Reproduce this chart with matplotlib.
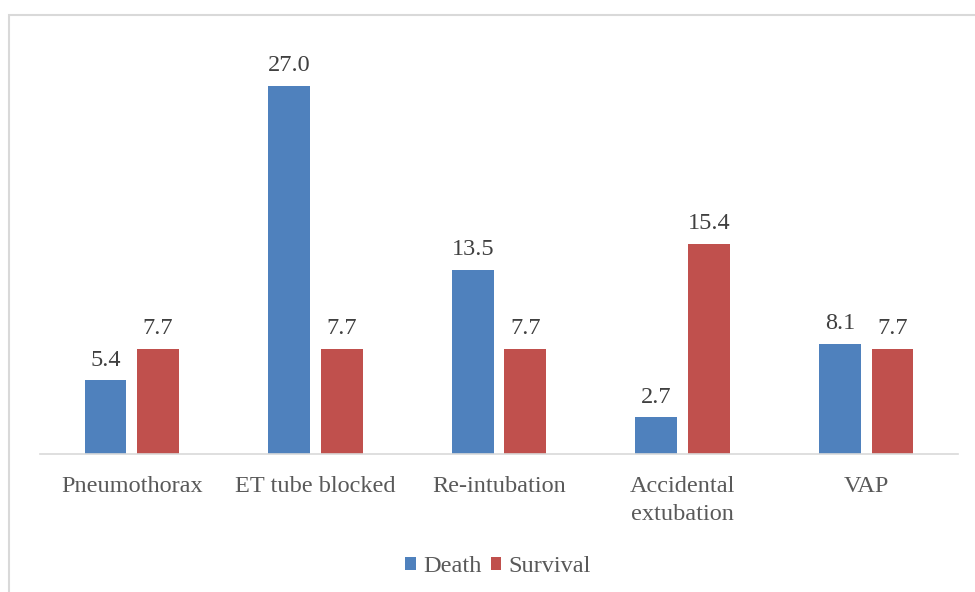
import numpy as np
import matplotlib.pyplot as plt
from matplotlib.patches import Rectangle

# complication rates (%) by outcome group
categories = ['Pneumothorax', 'ET tube blocked', 'Re-intubation', 'Accidental\nextubation', 'VAP']
death = [5.4, 27.0, 13.5, 2.7, 8.1]
survival = [7.7, 7.7, 7.7, 15.4, 7.7]

BLUE = '#4F81BD'
RED = '#C0504D'
TEXT = '#595959'
FS = 17.5

plt.rcParams['font.family'] = ['Liberation Serif', 'DejaVu Serif']

fig = plt.figure(figsize=(9.75, 5.92), dpi=100)
ax = fig.add_axes([0.041, 0.2331, 0.9416, 0.6909])

x = np.arange(len(categories))
width = 0.228
offset = 0.143

b1 = ax.bar(x - offset, death, width, color=BLUE, label='Death')
b2 = ax.bar(x + offset, survival, width, color=RED, label='Survival')

for bars, vals in [(b1, death), (b2, survival)]:
    for bar, v in zip(bars, vals):
        ax.annotate(f'{v:.1f}', (bar.get_x() + bar.get_width() / 2, v),
                    xytext=(0, 10.5), textcoords='offset points',
                    ha='center', va='baseline', fontsize=FS, color='#404040')

ax.set_xlim(-0.5, 4.5)
ax.set_ylim(0, 30)
ax.set_xticks(x)
ax.set_xticklabels(categories, fontsize=FS, color=TEXT, linespacing=1.42, va='top')
ax.tick_params(axis='x', length=0, pad=16)
ax.set_yticks([])
for side in ['left', 'right', 'top']:
    ax.spines[side].set_visible(False)
ax.spines['bottom'].set_color('#D9D9D9')
ax.spines['bottom'].set_linewidth(1.2)

fig.legend(loc='center', bbox_to_anchor=(0.511, 0.043), ncol=2, frameon=False,
           fontsize=FS, labelcolor=TEXT, handlelength=0.42, handleheight=0.42,
           handletextpad=0.3, columnspacing=0.4)

# chart frame
fig.patches.append(Rectangle((0.0092, -0.1), 1.2, 1.0747, transform=fig.transFigure,
                             fill=False, edgecolor='#D9D9D9', linewidth=1.5))

fig.savefig('out.png', dpi=100)
